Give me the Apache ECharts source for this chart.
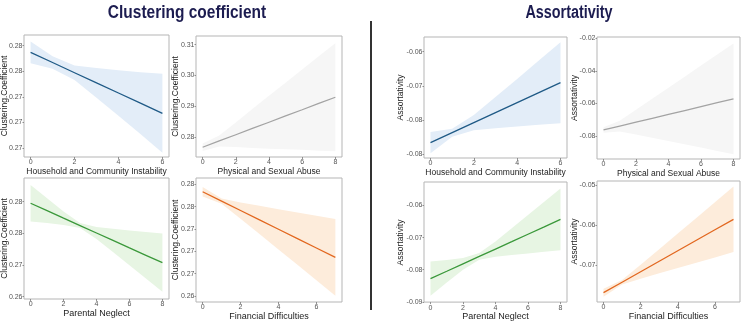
<!DOCTYPE html>
<html>
<head>
<meta charset="utf-8">
<script src="https://cdn.jsdelivr.net/npm/echarts@6/dist/echarts.min.js"></script>
<style>html,body{margin:0;padding:0;background:#fff}#c{width:742px;height:322px}</style>
</head>
<body>
<div id="c"></div>
<script>
// ---------- data ----------
const xs6 = [0,1,2,3,4,5,6];
const xs7 = [0,1,2,3,4,5,6,7];
const xs8 = [0,1,2,3,4,5,6,7,8];

// Clustering coefficient
const cc_hci_fit = [0.28185,0.28086,0.27986,0.27887,0.27788,0.27688,0.27589];
const cc_hci_hi  = [0.28291,0.28146,0.28056,0.28032,0.28010,0.27990,0.27975];
const cc_hci_lo  = [0.28079,0.28026,0.27916,0.27742,0.27566,0.27386,0.27203];

const cc_psa_fit = [0.27676,0.27879,0.28081,0.28284,0.28486,0.28689,0.28891,0.29094,0.29296];
const cc_psa_hi  = [0.27796,0.28059,0.28481,0.28914,0.29346,0.29769,0.30191,0.30624,0.31046];
const cc_psa_lo  = [0.27556,0.27699,0.27681,0.27654,0.27626,0.27609,0.27591,0.27564,0.27546];

const cc_pn_fit = [0.27975,0.27858,0.27740,0.27623,0.27506,0.27389,0.27271,0.27154,0.27037];
const cc_pn_hi  = [0.28262,0.28053,0.27846,0.27663,0.27602,0.27574,0.27547,0.27522,0.27497];
const cc_pn_lo  = [0.27688,0.27663,0.27634,0.27583,0.27410,0.27204,0.26995,0.26786,0.26577];

const cc_fd_fit = [0.28167,0.28062,0.27957,0.27852,0.27747,0.27642,0.27537,0.27433];
const cc_fd_hi  = [0.28219,0.28091,0.28048,0.28010,0.27972,0.27935,0.27898,0.27862];
const cc_fd_lo  = [0.28115,0.28033,0.27866,0.27694,0.27522,0.27349,0.27176,0.27004];

// Assortativity
const as_hci_fit = [-0.08000,-0.07780,-0.07561,-0.07341,-0.07121,-0.06902,-0.06682];
const as_hci_hi  = [-0.07764,-0.07692,-0.07393,-0.06999,-0.06598,-0.06196,-0.05792];
const as_hci_lo  = [-0.08236,-0.07868,-0.07729,-0.07683,-0.07644,-0.07608,-0.07572];

const as_psa_fit = [-0.07631,-0.07392,-0.07152,-0.06913,-0.06674,-0.06435,-0.06195,-0.05956,-0.05717];
const as_psa_hi  = [-0.07465,-0.07067,-0.06395,-0.05717,-0.05038,-0.04358,-0.03677,-0.02997,-0.02317];
const as_psa_lo  = [-0.07797,-0.07717,-0.07909,-0.08109,-0.08310,-0.08512,-0.08713,-0.08915,-0.09117];

const as_pn_fit = [-0.08278,-0.08048,-0.07817,-0.07587,-0.07356,-0.07126,-0.06895,-0.06665,-0.06434];
const as_pn_hi  = [-0.07746,-0.07696,-0.07635,-0.07482,-0.07117,-0.06711,-0.06299,-0.05886,-0.05471];
const as_pn_lo  = [-0.08810,-0.08400,-0.07999,-0.07692,-0.07595,-0.07541,-0.07491,-0.07444,-0.07397];

const as_fd_fit = [-0.07692,-0.07430,-0.07168,-0.06906,-0.06644,-0.06382,-0.06120,-0.05858];
const as_fd_hi  = [-0.07593,-0.07374,-0.06994,-0.06604,-0.06213,-0.05822,-0.05430,-0.05038];
const as_fd_lo  = [-0.07791,-0.07486,-0.07342,-0.07208,-0.07075,-0.06942,-0.06810,-0.06678];

// tick values and labels
const xt6 = [0,2,4,6];
const xt8 = [0,2,4,6,8];
const cc_hci_yt = [0.2725,0.275,0.2775,0.28,0.2825];
const cc_hci_yl = ['0.27','0.27','0.27','0.28','0.28'];
const cc_psa_yt = [0.28,0.29,0.30,0.31];
const cc_psa_yl = ['0.28','0.29','0.30','0.31'];
const cc_pn_yt = [0.265,0.27,0.275,0.28];
const cc_pn_yl = ['0.26','0.27','0.28','0.28'];
const cc_fd_yt = [0.27,0.2725,0.275,0.2775,0.28,0.2825];
const cc_fd_yl = ['0.26','0.27','0.27','0.27','0.28','0.28'];
const as_hci_yt = [-0.0825,-0.075,-0.0675,-0.06];
const as_hci_yl = ['-0.08','-0.08','-0.07','-0.06'];
const as_psa_yt = [-0.08,-0.06,-0.04,-0.02];
const as_psa_yl = ['-0.08','-0.06','-0.04','-0.02'];
const as_pn_yt = [-0.09,-0.08,-0.07,-0.06];
const as_pn_yl = ['-0.09','-0.08','-0.07','-0.06'];
const as_fd_yt = [-0.07,-0.06,-0.05];
const as_fd_yl = ['-0.07','-0.06','-0.05'];

const nameHCI = 'Household and Community Instability';
const namePSA = 'Physical and Sexual Abuse';
const namePN = 'Parental Neglect';
const nameFD = 'Financial Difficulties';
const nameCC = 'Clustering.Coefficient';
const nameAS = 'Assortativity';
const titleCC = 'Clustering coefficient';
const titleAS = 'Assortativity';

// ---------- styling / layout ----------
const COLORS = {
  blue:   {line:'#1f5a86', band:'#e3edf8'},
  grey:   {line:'#a3a3a3', band:'#f6f6f6'},
  green:  {line:'#3a983a', band:'#e7f5e3'},
  orange: {line:'#e2671f', band:'#fdecdb'}
};
const FONT = '"Liberation Sans", Arial, sans-serif';

const panels = [
  {x:xs6, fit:cc_hci_fit, hi:cc_hci_hi, lo:cc_hci_lo, xt:xt6, yt:cc_hci_yt, yl:cc_hci_yl, xName:nameHCI, yName:nameCC, c:'blue',
   g:{left:24,top:35,width:145,height:122}, xr:[-0.3,6.3], yr:[0.27162,0.28355], yTx:5, xGap:8},
  {x:xs8, fit:cc_psa_fit, hi:cc_psa_hi, lo:cc_psa_lo, xt:xt8, yt:cc_psa_yt, yl:cc_psa_yl, xName:namePSA, yName:nameCC, c:'grey',
   g:{left:196,top:36,width:146,height:121}, xr:[-0.4,8.4], yr:[0.2736,0.3128], yTx:176, xGap:8},
  {x:xs8, fit:cc_pn_fit, hi:cc_pn_hi, lo:cc_pn_lo, xt:xt8, yt:cc_pn_yt, yl:cc_pn_yl, xName:namePN, yName:nameCC, c:'green',
   g:{left:24,top:178,width:145,height:121}, xr:[-0.4,8.4], yr:[0.26464,0.28374], yTx:5, xGap:10},
  {x:xs7, fit:cc_fd_fit, hi:cc_fd_hi, lo:cc_fd_lo, xt:xt6, yt:cc_fd_yt, yl:cc_fd_yl, xName:nameFD, yName:nameCC, c:'orange',
   g:{left:196,top:178,width:146,height:124}, xr:[-0.35,7.35], yr:[0.26933,0.28321], yTx:176, xGap:8},
  {x:xs6, fit:as_hci_fit, hi:as_hci_hi, lo:as_hci_lo, xt:xt6, yt:as_hci_yt, yl:as_hci_yl, xName:nameHCI, yName:nameAS, c:'blue',
   g:{left:424,top:37,width:143,height:121}, xr:[-0.3,6.3], yr:[-0.08338,-0.05677], yTx:401, xGap:7},
  {x:xs8, fit:as_psa_fit, hi:as_psa_hi, lo:as_psa_lo, xt:xt8, yt:as_psa_yt, yl:as_psa_yl, xName:namePSA, yName:nameAS, c:'grey',
   g:{left:597,top:37,width:143,height:122}, xr:[-0.4,8.4], yr:[-0.09413,-0.0192], yTx:575, xGap:6},
  {x:xs8, fit:as_pn_fit, hi:as_pn_hi, lo:as_pn_lo, xt:xt8, yt:as_pn_yt, yl:as_pn_yl, xName:namePN, yName:nameAS, c:'green',
   g:{left:424,top:182,width:143,height:121}, xr:[-0.4,8.4], yr:[-0.09009,-0.05267], yTx:401, xGap:8},
  {x:xs7, fit:as_fd_fit, hi:as_fd_hi, lo:as_fd_lo, xt:xt6, yt:as_fd_yt, yl:as_fd_yl, xName:nameFD, yName:nameAS, c:'orange',
   g:{left:597,top:181,width:143,height:121}, xr:[-0.35,7.35], yr:[-0.07925,-0.049], yTx:575, xGap:9}
];

const grid = [], xAxis = [], yAxis = [], series = [], graphic = [];
panels.forEach((p, i) => {
  const col = COLORS[p.c];
  grid.push(Object.assign({show:true, borderColor:'#b5b5b5', borderWidth:1, backgroundColor:'#fff', containLabel:false}, p.g));
  xAxis.push({
    type:'value', gridIndex:i, min:p.xr[0], max:p.xr[1],
    axisLine:{show:false, onZero:false}, splitLine:{show:false},
    axisTick:{show:true, customValues:p.xt, length:2, lineStyle:{color:'#777', width:0.8}},
    axisLabel:{customValues:p.xt, fontSize:7, color:'#555', margin:2, fontFamily:FONT},
    name:p.xName, nameLocation:'middle', nameGap:p.xGap,
    nameTextStyle:{fontSize:i % 4 >= 2 ? 9 : 8.5, color:'#222', fontFamily:FONT, verticalAlign:'top'}
  });
  yAxis.push({
    type:'value', gridIndex:i, min:p.yr[0], max:p.yr[1],
    axisLine:{show:false, onZero:false}, splitLine:{show:false},
    axisTick:{show:true, customValues:p.yt, length:1.5, lineStyle:{color:'#777', width:0.8}},
    axisLabel:{customValues:p.yt, fontSize:7, color:'#555', margin:1.5, fontFamily:FONT,
      formatter:(v) => {
        let best = 0, d = Infinity;
        p.yt.forEach((t, k) => { const dd = Math.abs(t - v); if (dd < d) { d = dd; best = k; } });
        return p.yl[best];
      }}
  });
  // y-axis title as rotated text, centred on the panel
  graphic.push({type:'text', x:p.yTx, y:p.g.top + p.g.height / 2, rotation:Math.PI / 2,
    style:{text:p.yName, fill:'#222', font:'8.5px ' + FONT, align:'center', verticalAlign:'middle'}});
  // confidence band polygon
  series.push({
    type:'custom', xAxisIndex:i, yAxisIndex:i, silent:true, clip:true,
    data:p.x.map((x, k) => [x, p.lo[k], p.hi[k]]),
    encode:{x:0, y:[1, 2]},
    renderItem:(params, api) => {
      if (params.dataIndex !== 0) return null;
      const pts = [];
      for (let k = 0; k < p.x.length; k++) pts.push(api.coord([p.x[k], p.hi[k]]));
      for (let k = p.x.length - 1; k >= 0; k--) pts.push(api.coord([p.x[k], p.lo[k]]));
      return {type:'polygon', shape:{points:pts}, style:{fill:col.band, stroke:null}};
    },
    z:1
  });
  series.push({
    type:'line', xAxisIndex:i, yAxisIndex:i,
    data:p.x.map((x, k) => [x, p.fit[k]]),
    showSymbol:false, silent:true,
    lineStyle:{color:col.line, width:1.3}, z:3
  });
});

graphic.push(
  {type:'text', x:187, y:4, scaleX:0.86,
    style:{text:titleCC, fill:'#1c1c50', font:'bold 18px ' + FONT, align:'center', verticalAlign:'top'}},
  {type:'text', x:569, y:4, scaleX:0.8,
    style:{text:titleAS, fill:'#1c1c50', font:'bold 18px ' + FONT, align:'center', verticalAlign:'top'}},
  {type:'line', shape:{x1:371, y1:21, x2:371, y2:310}, style:{stroke:'#333', lineWidth:2}}
);

const chart = echarts.init(document.getElementById('c'), null, {renderer:'canvas'});
chart.setOption({
  animation:false,
  backgroundColor:'#fff',
  grid, xAxis, yAxis, series, graphic
});
</script>
</body>
</html>
